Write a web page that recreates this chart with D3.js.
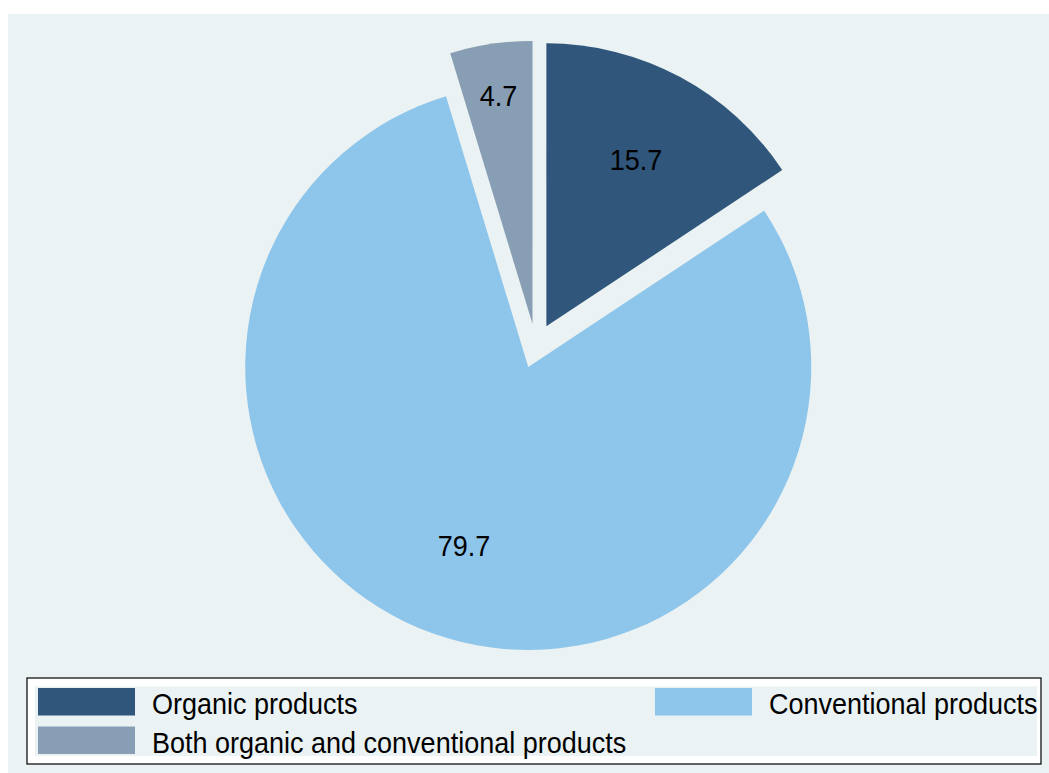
<!DOCTYPE html>
<html>
<head>
<meta charset="utf-8">
<script src="https://cdn.jsdelivr.net/npm/d3@7"></script>
<style>
  body { margin: 0; background: #ffffff; }
  svg { display: block; }
  text { font-family: "Liberation Sans", Arial, Helvetica, sans-serif; fill: #000; }
</style>
</head>
<body>
<script>
(function(){

//chart data
var categories = ["Organic products", "Conventional products", "Both organic and conventional products"];
var shares = [15.7, 79.7, 4.7];
var sliceColors = ["#30577b", "#8ec5ea", "#889eb4"];

//frame dimensions
var width = 1049,
    height = 773,
    cx = 535.8,
    cy = 346,
    radius = 283,
    explode = 22.3,
    fontSize = 27;

var svg = d3.select("body")
    .append("svg")
    .attr("width", width)
    .attr("height", height);

//plot region background
svg.append("rect")
    .attr("x", 8)
    .attr("y", 14)
    .attr("width", width - 8)
    .attr("height", height - 14)
    .attr("fill", "#eaf2f3");

//pie layout, first slice starts at 12 o'clock and goes clockwise
var pie = d3.pie()
    .sort(null)
    .value(function(d){ return d; });

var arc = d3.arc()
    .innerRadius(0)
    .outerRadius(radius);

var arcs = pie(shares);

//every slice is pulled out along its bisector
function shift(d, dist){
    var mid = (d.startAngle + d.endAngle) / 2;
    return [Math.sin(mid) * dist, -Math.cos(mid) * dist];
}

var slices = svg.append("g")
    .attr("transform", "translate(" + cx + "," + cy + ")");

slices.selectAll(".slice")
    .data(arcs)
    .enter()
    .append("path")
    .attr("class", "slice")
    .attr("transform", function(d){
        var s = shift(d, explode);
        return "translate(" + s[0] + "," + s[1] + ")";
    })
    .attr("d", arc)
    .style("fill", function(d, i){ return sliceColors[i]; });

//value labels inside slices
slices.selectAll(".plabel")
    .data(arcs)
    .enter()
    .append("text")
    .attr("class", "plabel")
    .attr("text-anchor", "middle")
    .style("font-size", fontSize + "px")
    .attr("transform", function(d){
        var ratio = d.value < 10 ? 0.816 : 0.67;
        var s = shift(d, explode + radius * ratio);
        return "translate(" + s[0] + "," + (s[1] + fontSize * 0.39) + ") scale(1,1.1)";
    })
    .text(function(d){ return d3.format(".1f")(d.value); });

//legend box
var legend = svg.append("g");

legend.append("rect")
    .attr("x", 27)
    .attr("y", 678)
    .attr("width", 1014)
    .attr("height", 86)
    .attr("fill", "#ffffff")
    .attr("stroke", "#000")
    .attr("stroke-width", 1.2);

legend.append("rect")
    .attr("x", 35)
    .attr("y", 686.5)
    .attr("width", 1002)
    .attr("height", 69.5)
    .attr("fill", "#eaf2f3");

var keys = legend.selectAll(".key")
    .data(categories)
    .enter()
    .append("g")
    .attr("class", "key")
    .attr("transform", function(d, i){
        return "translate(" + (38 + (i % 2) * 617) + "," + (688 + Math.floor(i / 2) * 38.5) + ")";
    });

keys.append("rect")
    .attr("width", 97)
    .attr("height", 27.5)
    .style("fill", function(d, i){ return sliceColors[i]; });

keys.append("text")
    .attr("transform", "translate(114,26) scale(1,1.1)")
    .style("font-size", fontSize + "px")
    .text(function(d){ return d; });

})();
</script>
</body>
</html>
